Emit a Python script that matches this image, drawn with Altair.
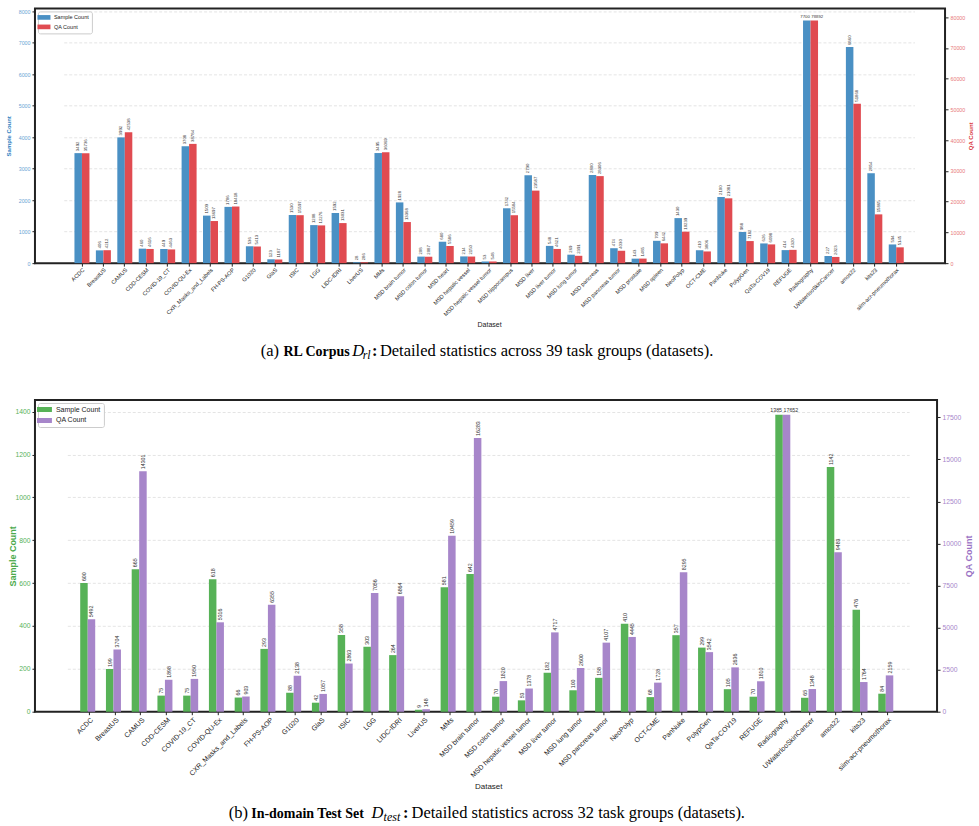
import altair as alt
import pandas as pd

# ---- RL corpus: 39 task groups ----
rl_datasets = [
    "ACDC", "BreastUS", "CAMUS", "CDD-CESM", "COVID-19_CT", "COVID-QU-Ex",
    "CXR_Masks_and_Labels", "FH-PS-AOP", "G1020", "GlaS", "ISIC", "LGG",
    "LIDC-IDRI", "LiverUS", "MMs", "MSD brain tumor", "MSD colon tumor",
    "MSD heart", "MSD hepatic vessel", "MSD hepatic vessel tumor",
    "MSD hippocampus", "MSD liver", "MSD liver tumor", "MSD lung tumor",
    "MSD pancreas", "MSD pancreas tumor", "MSD prostate", "MSD spleen",
    "NeoPolyp", "OCT-CME", "PanNuke", "PolypGen", "QaTa-COV19", "REFUGE",
    "Radiography", "UWaterlooSkinCancer", "amos22", "kits23",
    "siim-acr-pneumothorax",
]
rl_samples = [3492, 406, 3992, 460, 449, 3708, 1509, 1786, 536, 123, 1530,
              1208, 1592, 28, 3495, 1928, 208, 680, 214, 53, 1742, 2790, 548,
              269, 2800, 474, 143, 709, 1430, 410, 2100, 988, 626, 414, 7700,
              227, 6860, 2854, 594]
rl_qa = [35736, 4212, 42538, 4616, 4463, 38784, 13697, 18418, 5413, 1187,
         15597, 12276, 13031, 286, 36069, 13368, 2087, 5586, 2150, 548, 15584,
         23587, 4621, 2391, 28306, 4030, 1485, 6442, 10239, 3806, 21081, 7182,
         6098, 4320, 78892, 2023, 51868, 15865, 5145]

# ---- In-domain test set: 32 task groups ----
test_datasets = [
    "ACDC", "BreastUS", "CAMUS", "CDD-CESM", "COVID-19_CT", "COVID-QU-Ex",
    "CXR_Masks_and_Labels", "FH-PS-AOP", "G1020", "GlaS", "ISIC", "LGG",
    "LIDC-IDRI", "LiverUS", "MMs", "MSD brain tumor", "MSD colon tumor",
    "MSD hepatic vessel tumor", "MSD liver tumor", "MSD lung tumor",
    "MSD pancreas tumor", "NeoPolyp", "OCT-CME", "PanNuke", "PolypGen",
    "QaTa-COV19", "REFUGE", "Radiography", "UWaterlooSkinCancer", "amos22",
    "kits23", "siim-acr-pneumothorax",
]
test_samples = [600, 199, 665, 75, 75, 618, 66, 293, 88, 42, 358, 303, 264, 9,
                581, 642, 70, 53, 182, 100, 158, 410, 68, 357, 299, 105, 70,
                1385, 65, 1142, 476, 84]
test_qa = [5492, 3704, 14301, 1898, 1950, 5316, 903, 6355, 2138, 1057, 2863,
           7056, 6864, 148, 10459, 16283, 1820, 1378, 4717, 2600, 4107, 4445,
           1728, 8295, 3542, 2636, 1810, 17652, 1348, 9483, 1764, 2159]

SERIES = ["Sample Count", "QA Count"]
FONT = "Liberation Sans"
SERIF = "Liberation Serif"
INK = "#222222"
CAP = 16.5


def series_table(datasets, values, name):
    top = max(values)
    return pd.DataFrame({
        "dataset": datasets,
        "series": name,
        "value": values,
        "peak": [v == top for v in values],
    })


def caption_layer(parts, x0, y0):
    """parts: (text, page_x, page_y, size, weight, style)."""
    out = []
    for text, x, y, size, weight, style in parts:
        out.append(
            alt.Chart(pd.DataFrame({"t": [text]}))
            .mark_text(align="left", baseline="alphabetic", font=SERIF,
                       fontSize=size, fontWeight=weight, fontStyle=style,
                       color="#000000")
            .encode(x=alt.value(x - x0), y=alt.value(y - y0), text="t:N")
        )
    return out


def caption_parts(label, label_x, bold, bold_x, d_x, sub, sub_x, colon_x,
                  rest_x, n, base):
    return [
        (label, label_x, base, CAP, "normal", "normal"),
        (bold, bold_x, base, 14, "bold", "normal"),
        ("D", d_x, base, CAP, "normal", "italic"),
        (sub, sub_x, base + 3, 12, "normal", "italic"),
        (":", colon_x, base, CAP, "bold", "normal"),
        (f"Detailed statistics across {n} task groups (datasets).", rest_x,
         base, CAP, "normal", "normal"),
    ]


def panel(p, x0, y0):
    datasets = p["datasets"]
    x_enc = alt.X(
        "dataset:N", sort=datasets, title="Dataset",
        scale=alt.Scale(paddingInner=0.3, paddingOuter=0.5,
                        range=p["x_range"]),
        axis=alt.Axis(labelAngle=-45, labelAlign="right", labelBaseline="top",
                      labelFontSize=p["xlabel_size"], labelColor=INK,
                      labelFont=FONT, labelOverlap=False, labelLimit=400,
                      labelPadding=1, tickSize=3, tickColor=INK, domain=False,
                      titleFont=FONT, titleFontSize=p["xtitle_size"],
                      titleFontWeight="normal", titleColor=INK,
                      titleY=p["xtitle_y"], titleBaseline="middle"),
    )
    xo_enc = alt.XOffset("series:N",
                         scale=alt.Scale(domain=SERIES, paddingInner=0,
                                         paddingOuter=0))
    color = alt.Color(
        "series:N",
        scale=alt.Scale(domain=SERIES, range=p["bar_colors"]),
        legend=alt.Legend(title=None, orient="top-left", offset=3,
                          fillColor="white", strokeColor="#cccccc",
                          padding=3, cornerRadius=2,
                          symbolType=p["legend_path"],
                          symbolSize=p["legend_symbol"], symbolStrokeWidth=0,
                          labelFont=FONT, labelFontSize=p["legend_size"],
                          labelColor=INK, labelOffset=p["legend_gap"],
                          rowPadding=p["legend_row"]),
    )

    layers = []
    specs = [(SERIES[0], p["samples"], "left", 0),
             (SERIES[1], p["qa"], "right", 1)]
    for name, values, orient, i in specs:
        df = series_table(datasets, values, name)
        left = orient == "left"
        y_enc = alt.Y(
            "value:Q", title=name,
            scale=alt.Scale(domain=[0, max(values) * 1.05], nice=False),
            axis=alt.Axis(orient=orient, values=p["ticks"][i], format="d",
                          grid=left, gridDash=[3, 2], gridColor="#d9d9d9",
                          gridWidth=0.7,
                          gridOpacity={"condition": {"test": "datum.value === 0",
                                                     "value": 0},
                                       "value": 1},
                          domain=False, tickSize=3,
                          tickColor=INK, labelFont=FONT, labelOverlap=False,
                          labelBound=False, labelFlush=False,
                          labelFontSize=p["ytick_size"],
                          labelColor=p["tick_colors"][i], labelPadding=2,
                          titleFont=FONT, titleFontSize=p["ytitle_size"],
                          titleFontWeight="bold",
                          titleColor=p["title_colors"][i], titleAngle=270,
                          titleX=p["ytitle_x"][i], titleBaseline="middle"),
        )
        base = alt.Chart(df).encode(x=x_enc, xOffset=xo_enc, y=y_enc)
        bars = base.mark_bar().encode(color=color)
        upright = (
            base.transform_filter("!datum.peak")
            .mark_text(angle=270, align="left", baseline="middle", dx=2,
                       font=FONT, fontSize=p["value_size"], color="#333333")
            .encode(text=alt.Text("value:Q", format="d"))
        )
        flat = (
            base.transform_filter("datum.peak")
            .mark_text(align="right" if left else "left", baseline="bottom",
                       dx=3 if left else -3, dy=-1.5, font=FONT,
                       fontSize=p["value_size"], color="#333333")
            .encode(text=alt.Text("value:Q", format="d"))
        )
        layers.append(alt.layer(bars, upright, flat))

    return (
        alt.layer(*layers, *caption_layer(p["caption"], x0, y0))
        .resolve_scale(y="independent")
        .properties(width=p["width"], height=p["height"])
    )


X0, TOP_Y, BOT_Y = 34, 7, 399
TOP_H = 255

top = panel({
    "datasets": rl_datasets, "samples": rl_samples, "qa": rl_qa,
    "width": 911, "height": TOP_H, "x_range": [28.8, 880.4],
    "bar_colors": ["#4a90c4", "#e04b51"],
    "tick_colors": ["#6ba4d4", "#e8787c"],
    "title_colors": ["#2f7fbf", "#d93a40"],
    "ticks": [list(range(0, 8001, 1000)), list(range(0, 80001, 10000))],
    "xlabel_size": 5.6, "xtitle_size": 7, "xtitle_y": 61,
    "ytick_size": 5.3, "ytitle_size": 6, "ytitle_x": [-26, 25],
    "value_size": 4.3, "legend_size": 5.5,
    "legend_path": "M-2.17,-0.78H2.17V0.78H-2.17Z", "legend_symbol": 36,
    "legend_gap": 7, "legend_row": 2.5,
    "caption": caption_parts("(a)", 260, "RL Corpus", 282.7, 351.5, "rl",
                             362, 371.5, 379.3, 39, 354.5),
}, X0, TOP_Y)

bottom = panel({
    "datasets": test_datasets, "samples": test_samples, "qa": test_qa,
    "width": 903, "height": 312, "x_range": [32.4, 875.1],
    "bar_colors": ["#57b257", "#a786ca"],
    "tick_colors": ["#57b257", "#a786ca"],
    "title_colors": ["#4caa4c", "#9a72c4"],
    "ticks": [list(range(0, 1401, 200)), list(range(0, 17501, 2500))],
    "xlabel_size": 7, "xtitle_size": 8, "xtitle_y": 75,
    "ytick_size": 6.8, "ytitle_size": 9, "ytitle_x": [-22, 31],
    "value_size": 5.3, "legend_size": 7,
    "legend_path": "M-2.14,-0.71H2.14V0.71H-2.14Z", "legend_symbol": 49,
    "legend_gap": 8, "legend_row": 3,
    "caption": caption_parts("(b)", 228, "In-domain Test Set", 250.5, 371,
                             "test", 383, 402.5, 411, 32, 817.5),
}, X0, BOT_Y)

chart = (
    alt.vconcat(top, bottom, spacing=BOT_Y - TOP_Y - TOP_H, bounds="flush")
    .resolve_scale(color="independent")
    .properties(padding={"left": 5, "top": TOP_Y, "right": 5, "bottom": 5})
    .configure(font=FONT)
    .configure_view(stroke=INK, strokeWidth=2)
)

chart.save("out.html", embed_options={"renderer": "svg", "actions": False})
